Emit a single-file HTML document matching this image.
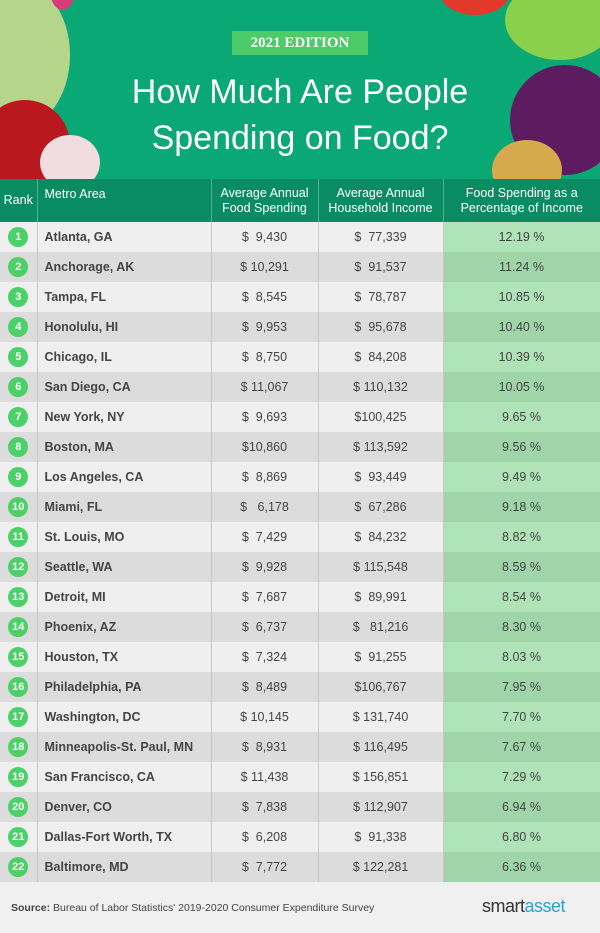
<!DOCTYPE html><html><head><style>
*{margin:0;padding:0;box-sizing:border-box}
body{width:600px;height:933px;background:#f0f0f0;font-family:"Liberation Sans",sans-serif;position:relative;overflow:hidden}
.hdr{position:absolute;left:0;top:0;width:600px;height:180px;background:#0aa874;overflow:hidden}
.blob{position:absolute;border-radius:50%}
.title{position:absolute;left:0;width:600px;text-align:center;color:#fff;font-size:34px;line-height:46px}
.ban{position:absolute;left:232px;top:31px;width:136px;height:24px;background:#4ccb68;color:#fff;font-family:"Liberation Serif",serif;font-weight:bold;font-size:15px;text-align:center;line-height:24px}
table{position:absolute;top:179px;left:0;width:600px;border-collapse:collapse;table-layout:fixed}
th{background:#0a8c63;color:#fff;font-weight:normal;font-size:12.5px;height:43px;line-height:15px;border-right:1px solid #4fb08c}
td{height:30px;font-size:12.5px;color:#444;border-right:1px solid #c8c8c8;text-align:center}
tr:nth-child(even) td{background:#efefef}
tr:nth-child(odd) td{background:#dcdcdc}
tr:nth-child(even) td.p{background:#b0e3b8}
tr:nth-child(odd) td.p{background:#9fd5a9}
td.m{text-align:left;padding-left:7px;font-weight:bold}
.c{display:inline-block;width:20px;height:20px;border-radius:50%;background:#4cd068;color:#fff;font-weight:bold;font-size:11px;line-height:20px;text-align:center}
.foot{position:absolute;top:902px;left:11px;font-size:10.5px;color:#444}
.logo{position:absolute;top:896px;left:482px;font-size:18px;color:#333;letter-spacing:-0.5px}
</style></head><body>
<div class="hdr">
<div class="blob" style="left:-40px;top:-20px;width:110px;height:150px;background:#b5d68a"></div>
<div class="blob" style="left:-20px;top:100px;width:90px;height:90px;background:#b9181e"></div>
<div class="blob" style="left:40px;top:135px;width:60px;height:55px;background:#f1dde0"></div>
<div class="blob" style="left:50px;top:-30px;width:25px;height:40px;background:#d83b79"></div>
<div class="blob" style="left:440px;top:-30px;width:70px;height:45px;background:#e23a2a"></div>
<div class="blob" style="left:505px;top:-20px;width:110px;height:80px;background:#8bd04a"></div>
<div class="blob" style="left:510px;top:65px;width:110px;height:110px;background:#5c1c5f"></div>
<div class="blob" style="left:492px;top:140px;width:70px;height:60px;background:#d7a94e"></div>
<div class="ban">2021 EDITION</div>
<div class="title" style="top:69px">How Much Are People</div>
<div class="title" style="top:115px">Spending on Food?</div>
</div>
<table>
<colgroup><col style="width:37px"><col style="width:174px"><col style="width:107px"><col style="width:125px"><col style="width:157px"></colgroup>
<tr><th>Rank</th><th style="text-align:left;padding-left:7px;vertical-align:top;padding-top:8px">Metro Area</th><th>Average Annual<br>Food Spending</th><th>Average Annual<br>Household Income</th><th style="border:none">Food Spending as a<br>Percentage of Income</th></tr>
<tr><td><span class="c">1</span></td><td class="m">Atlanta, GA</td><td>$ &nbsp;9,430</td><td>$ &nbsp;77,339</td><td class="p">12.19 %</td></tr>
<tr><td><span class="c">2</span></td><td class="m">Anchorage, AK</td><td>$ 10,291</td><td>$ &nbsp;91,537</td><td class="p">11.24 %</td></tr>
<tr><td><span class="c">3</span></td><td class="m">Tampa, FL</td><td>$ &nbsp;8,545</td><td>$ &nbsp;78,787</td><td class="p">10.85 %</td></tr>
<tr><td><span class="c">4</span></td><td class="m">Honolulu, HI</td><td>$ &nbsp;9,953</td><td>$ &nbsp;95,678</td><td class="p">10.40 %</td></tr>
<tr><td><span class="c">5</span></td><td class="m">Chicago, IL</td><td>$ &nbsp;8,750</td><td>$ &nbsp;84,208</td><td class="p">10.39 %</td></tr>
<tr><td><span class="c">6</span></td><td class="m">San Diego, CA</td><td>$ 11,067</td><td>$ 110,132</td><td class="p">10.05 %</td></tr>
<tr><td><span class="c">7</span></td><td class="m">New York, NY</td><td>$ &nbsp;9,693</td><td>$100,425</td><td class="p">9.65 %</td></tr>
<tr><td><span class="c">8</span></td><td class="m">Boston, MA</td><td>$10,860</td><td>$ 113,592</td><td class="p">9.56 %</td></tr>
<tr><td><span class="c">9</span></td><td class="m">Los Angeles, CA</td><td>$ &nbsp;8,869</td><td>$ &nbsp;93,449</td><td class="p">9.49 %</td></tr>
<tr><td><span class="c">10</span></td><td class="m">Miami, FL</td><td>$ &nbsp;&nbsp;6,178</td><td>$ &nbsp;67,286</td><td class="p">9.18 %</td></tr>
<tr><td><span class="c">11</span></td><td class="m">St. Louis, MO</td><td>$ &nbsp;7,429</td><td>$ &nbsp;84,232</td><td class="p">8.82 %</td></tr>
<tr><td><span class="c">12</span></td><td class="m">Seattle, WA</td><td>$ &nbsp;9,928</td><td>$ 115,548</td><td class="p">8.59 %</td></tr>
<tr><td><span class="c">13</span></td><td class="m">Detroit, MI</td><td>$ &nbsp;7,687</td><td>$ &nbsp;89,991</td><td class="p">8.54 %</td></tr>
<tr><td><span class="c">14</span></td><td class="m">Phoenix, AZ</td><td>$ &nbsp;6,737</td><td>$ &nbsp;&nbsp;81,216</td><td class="p">8.30 %</td></tr>
<tr><td><span class="c">15</span></td><td class="m">Houston, TX</td><td>$ &nbsp;7,324</td><td>$ &nbsp;91,255</td><td class="p">8.03 %</td></tr>
<tr><td><span class="c">16</span></td><td class="m">Philadelphia, PA</td><td>$ &nbsp;8,489</td><td>$106,767</td><td class="p">7.95 %</td></tr>
<tr><td><span class="c">17</span></td><td class="m">Washington, DC</td><td>$ 10,145</td><td>$ 131,740</td><td class="p">7.70 %</td></tr>
<tr><td><span class="c">18</span></td><td class="m">Minneapolis-St. Paul, MN</td><td>$ &nbsp;8,931</td><td>$ 116,495</td><td class="p">7.67 %</td></tr>
<tr><td><span class="c">19</span></td><td class="m">San Francisco, CA</td><td>$ 11,438</td><td>$ 156,851</td><td class="p">7.29 %</td></tr>
<tr><td><span class="c">20</span></td><td class="m">Denver, CO</td><td>$ &nbsp;7,838</td><td>$ 112,907</td><td class="p">6.94 %</td></tr>
<tr><td><span class="c">21</span></td><td class="m">Dallas-Fort Worth, TX</td><td>$ &nbsp;6,208</td><td>$ &nbsp;91,338</td><td class="p">6.80 %</td></tr>
<tr><td><span class="c">22</span></td><td class="m">Baltimore, MD</td><td>$ &nbsp;7,772</td><td>$ 122,281</td><td class="p">6.36 %</td></tr>
</table>
<div class="foot"><b>Source:</b> Bureau of Labor Statistics' 2019-2020 Consumer Expenditure Survey</div>
<div class="logo">smart<span style="color:#2aa0d8">asset</span></div>
</body></html>
